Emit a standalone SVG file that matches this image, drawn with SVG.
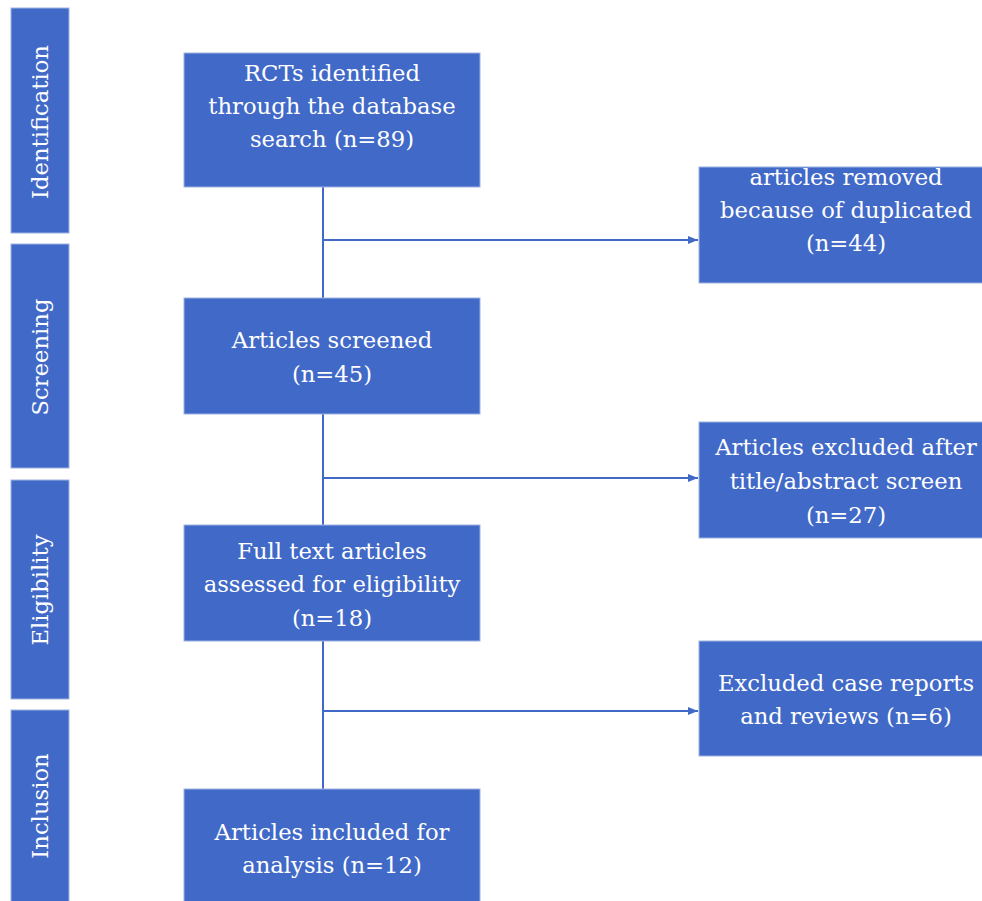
<svg xmlns="http://www.w3.org/2000/svg" width="982" height="901" viewBox="0 0 982 901">
<style>
.box{fill:#4169C8;stroke:#9DB3E0;stroke-width:1}
.t{font-family:"DejaVu Serif","Liberation Serif",serif;font-size:22.7px;fill:#FFFFFF;text-anchor:middle}
.ln{stroke:#4169C8;stroke-width:2;fill:none}
</style>
<defs>
<marker id="ah" markerWidth="10" markerHeight="8" refX="10" refY="4" orient="auto" markerUnits="userSpaceOnUse">
<path d="M0,0 L10,4 L0,8 Z" fill="#4169C8"/>
</marker>
</defs>
<rect width="982" height="901" fill="#FFFFFF"/>
<g id="stage-identification"><rect class="box" x="11" y="8" width="58" height="225"/><text class="t" transform="translate(48,122) rotate(-90)">Identification</text></g>
<g id="stage-screening"><rect class="box" x="11" y="244" width="58" height="224"/><text class="t" transform="translate(48,357) rotate(-90)">Screening</text></g>
<g id="stage-eligibility"><rect class="box" x="11" y="480" width="58" height="219"/><text class="t" transform="translate(48,590) rotate(-90)">Eligibility</text></g>
<g id="stage-inclusion"><rect class="box" x="11" y="710" width="58" height="200"/><text class="t" transform="translate(48,806) rotate(-90)">Inclusion</text></g>
<g id="connectors">
<line class="ln" x1="323" y1="187" x2="323" y2="298"/>
<line class="ln" x1="323" y1="414" x2="323" y2="525"/>
<line class="ln" x1="323" y1="641" x2="323" y2="789"/>
<line class="ln" x1="323" y1="240" x2="698" y2="240" marker-end="url(#ah)"/>
<line class="ln" x1="323" y1="478" x2="698" y2="478" marker-end="url(#ah)"/>
<line class="ln" x1="323" y1="711" x2="698" y2="711" marker-end="url(#ah)"/>
</g>
<g id="n-identified"><rect class="box" x="184" y="53" width="296" height="134"/>
<text class="t" x="332" y="81">RCTs identified</text><text class="t" x="332" y="114">through the database</text><text class="t" x="332" y="147">search (n=89)</text></g>
<g id="n-duplicates"><rect class="box" x="699" y="167" width="290" height="116"/>
<text class="t" x="846" y="185">articles removed</text><text class="t" x="846" y="218">because of duplicated</text><text class="t" x="846" y="251">(n=44)</text></g>
<g id="n-screened"><rect class="box" x="184" y="298" width="296" height="116"/>
<text class="t" x="332" y="348">Articles screened</text><text class="t" x="332" y="382">(n=45)</text></g>
<g id="n-excluded-title"><rect class="box" x="699" y="422" width="290" height="116"/>
<text class="t" x="846" y="455">Articles excluded after</text><text class="t" x="846" y="489">title/abstract screen</text><text class="t" x="846" y="523">(n=27)</text></g>
<g id="n-fulltext"><rect class="box" x="184" y="525" width="296" height="116"/>
<text class="t" x="332" y="559">Full text articles</text><text class="t" x="332" y="592">assessed for eligibility</text><text class="t" x="332" y="626">(n=18)</text></g>
<g id="n-excluded-reports"><rect class="box" x="699" y="641" width="290" height="115"/>
<text class="t" x="846" y="691">Excluded case reports</text><text class="t" x="846" y="724">and reviews (n=6)</text></g>
<g id="n-included"><rect class="box" x="184" y="789" width="296" height="130"/>
<text class="t" x="332" y="840">Articles included for</text><text class="t" x="332" y="873">analysis (n=12)</text></g>
</svg>
